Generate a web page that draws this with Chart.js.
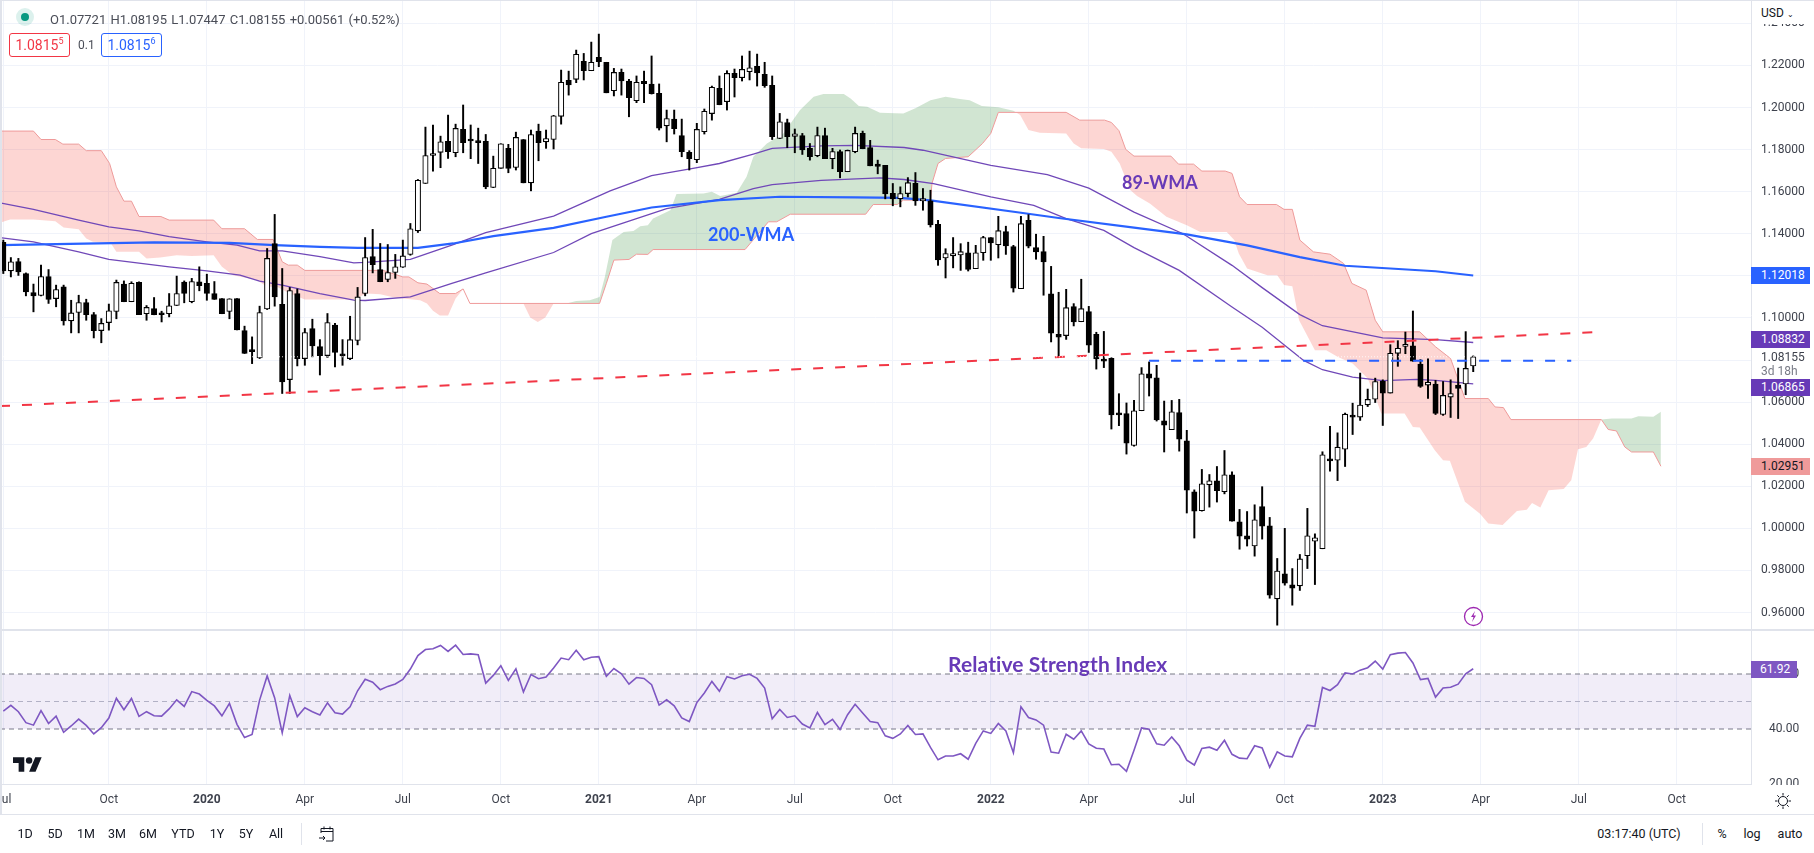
<!DOCTYPE html>
<html>
<head>
<meta charset="utf-8">
<title>EUR/USD weekly</title>
<script src="https://cdn.jsdelivr.net/npm/chart.js@4"></script>
<style>
  html, body { margin:0; padding:0; background:#fff; }
  #page { position:relative; width:1814px; height:853px; overflow:hidden; font-family:Roboto, sans-serif; color:#131722; }
  canvas { position:absolute; left:0; }
  .txt { position:absolute; white-space:nowrap; line-height:1; transform:translateY(-50%); }
  .rule { position:absolute; background:#e0e3eb; }
  .tag { position:absolute; left:1751px; width:59px; height:17px; line-height:17px; font-size:12px; padding-left:10px; box-sizing:border-box; }
  .box { position:absolute; top:33px; height:24px; width:61px; box-sizing:border-box; border:1px solid; border-radius:3px; font-size:14px; line-height:22px; text-align:center; }
  .box sup { font-size:9px; line-height:0; }
  .note { position:absolute; font-family:Lato, sans-serif; font-weight:700; font-size:18px; line-height:1; white-space:nowrap; transform:translateY(-50%); }
  .range { position:absolute; top:834px; font-size:12.5px; line-height:1; transform:translate(-50%,-50%); }
</style>
</head>
<body>
<div id="page">
  <canvas id="priceChart" style="top:0"></canvas>
  <canvas id="rsiChart" style="top:630px"></canvas>

  <div class="rule" style="left:0;top:0;width:1814px;height:1px"></div>
  <div class="rule" style="left:0;top:0;width:2px;height:814px"></div>
  <div class="rule" style="left:0;top:629px;width:1814px;height:2px"></div>
  <div class="rule" style="left:0;top:814px;width:1814px;height:1px"></div>

  <!-- header -->
  <div style="position:absolute;left:16px;top:8px;width:18px;height:18px;border-radius:50%;background:rgba(8,153,129,.14)"></div>
  <div style="position:absolute;left:21px;top:13px;width:8px;height:8px;border-radius:50%;background:#089981"></div>
  <div class="txt" style="left:50px;top:19px;font-size:13px;word-spacing:1px;color:#4a4d57">O1.07721 H1.08195 L1.07447 C1.08155 +0.00561 (+0.52%)</div>
  <div class="box" style="left:9px;border-color:#f23645;color:#f23645">1.0815<sup>5</sup></div>
  <div class="txt" style="left:78px;top:45px;font-size:12px;color:#4a4d57">0.1</div>
  <div class="box" style="left:101px;border-color:#2962ff;color:#2962ff">1.0815<sup>6</sup></div>

  <!-- price axis head, sits on top of the clipped 1.24 label -->
  <div style="position:absolute;left:1752px;top:1px;width:62px;height:23px;background:#fff"></div>
  <div class="txt" style="left:1761px;top:13px;font-size:12px">USD <span style="font-size:8px">&#8964;</span></div>

  <!-- last value tags -->
  <div class="tag" style="top:267px;background:#2962ff;color:#fff">1.12018</div>
  <div class="tag" style="top:331px;background:#673ab7;color:#fff">1.08832</div>
  <div class="txt" style="left:1761px;top:357px;font-size:12px;color:#3e424d">1.08155</div>
  <div class="txt" style="left:1761px;top:371px;font-size:12px;color:#787b86">3d 18h</div>
  <div class="tag" style="top:379px;background:#673ab7;color:#fff">1.06865</div>
  <div class="tag" style="top:458px;background:#ef9a9a;color:#131722">1.02951</div>
  <div class="tag" style="top:661px;width:46px;padding-left:9px;background:#7e57c2;color:#fff">61.92</div>

  <!-- chart notes -->
  <div class="note" style="left:708px;top:234px;color:#2962ff">200-WMA</div>
  <div class="note" style="left:1122px;top:182px;color:#673ab7">89-WMA</div>
  <div class="note" style="left:948px;top:663px;font-size:21px;letter-spacing:.1px;color:#673ab7">Relative Strength Index</div>

  <!-- event marker -->
  <svg style="position:absolute;left:1463px;top:606px" width="21" height="21" viewBox="0 0 21 21">
    <circle cx="10.5" cy="10.5" r="9" fill="#fff" stroke="#9c27b0" stroke-width="1.3"/>
    <path d="M12 5 L8 11 H10.5 L9 16 L13 9.5 H10.5 Z" fill="#9c27b0"/>
  </svg>

  <!-- logo -->
  <svg style="position:absolute;left:13px;top:757px" width="29" height="15" viewBox="0 0 36 18">
    <path d="M14 18H7V7H0V0h14v18zM28 18h-8L27.6 0h8L28 18z" fill="#131722"/>
    <circle cx="20" cy="4" r="4" fill="#131722"/>
  </svg>

  <!-- hides the lower half of the 20.00 label, as in the pane edge -->
  <div style="position:absolute;left:1752px;top:785px;width:62px;height:28px;background:#fff"></div>
  <svg style="position:absolute;left:1774px;top:792px" width="18" height="18" viewBox="0 0 18 18" fill="none" stroke="#131722" stroke-width="1">
    <circle cx="9" cy="9" r="4.5"/>
    <path d="M9 1v2.5M9 14.5V17M1 9h2.5M14.5 9H17M3.3 3.3l1.8 1.8M12.9 12.9l1.8 1.8M3.3 14.7l1.8-1.8M12.9 5.1l1.8-1.8"/>
  </svg>

  <!-- bottom toolbar -->
  <div class="range" style="left:25px">1D</div>
  <div class="range" style="left:55px">5D</div>
  <div class="range" style="left:86px">1M</div>
  <div class="range" style="left:117px">3M</div>
  <div class="range" style="left:148px">6M</div>
  <div class="range" style="left:183px">YTD</div>
  <div class="range" style="left:217px">1Y</div>
  <div class="range" style="left:246px">5Y</div>
  <div class="range" style="left:276px">All</div>
  <div class="rule" style="left:301px;top:823px;width:1px;height:22px"></div>
  <svg style="position:absolute;left:318px;top:825px" width="18" height="18" viewBox="0 0 18 18" fill="none" stroke="#131722" stroke-width="1">
    <path d="M3 8V3.5h12V16H8M3 6.5h12M6 1.5v3M12 1.5v3M1 13h6M5 11l2 2-2 2"/>
  </svg>
  <div class="range" style="left:1639px">03:17:40 (UTC)</div>
  <div class="rule" style="left:1702px;top:823px;width:1px;height:22px"></div>
  <div class="range" style="left:1722px">%</div>
  <div class="range" style="left:1752px">log</div>
  <div class="range" style="left:1790px">auto</div>
</div>

<script>
Chart.defaults.font.family = 'Roboto, sans-serif';

// price axis and time axis
const priceTicks = [1.24, 1.22, 1.20, 1.18, 1.16, 1.14, 1.12, 1.10, 1.06, 1.04, 1.02, 1.00, 0.98, 0.96];
const priceGrid = [1.24, 1.22, 1.20, 1.18, 1.16, 1.14, 1.12, 1.10, 1.08, 1.06, 1.04, 1.02, 1.00, 0.98, 0.96];
const rsiTicks = [60, 40, 20];
const timeTickWeeks = [0, 14, 27, 40, 53, 66, 79, 92, 105, 118, 131, 144, 157, 170, 183, 196, 209, 222];
const timeTickLabels = ['Jul', 'Oct', '2020', 'Apr', 'Jul', 'Oct', '2021', 'Apr', 'Jul', 'Oct', '2022', 'Apr', 'Jul', 'Oct', '2023', 'Apr', 'Jul', 'Oct'];

// weekly candles, one value per week
const opens = [
  1.1359,1.1224,1.1268,1.1211,1.1121,1.1107,1.1197,1.1092,1.1148,1.0986,
  1.1026,1.1073,1.1016,1.0940,1.0978,1.1031,1.1161,1.1077,1.1169,1.1020,
  1.1045,1.1018,1.1020,1.1059,1.1170,1.1077,1.1172,1.1164,1.1116,1.1092,
  1.1031,1.1092,1.0940,1.0845,1.0810,1.1043,1.1354,1.1065,1.0707,1.1116,
  1.0807,1.0950,1.0864,1.0821,1.0966,1.0826,1.0807,1.0893,1.1116,1.1292,
  1.1230,1.1183,1.1216,1.1241,1.1302,1.1414,1.1639,1.1772,1.1787,1.1839,
  1.1785,1.1896,1.1845,1.1836,1.1839,1.1620,1.1711,1.1806,1.1715,1.1848,
  1.1642,1.1888,1.1837,1.1848,1.1958,1.2129,1.2134,1.2219,1.2175,1.2238,
  1.2215,1.2080,1.2167,1.2126,1.2032,1.2124,1.2112,1.2067,1.1913,1.1945,
  1.1867,1.1787,1.1752,1.1885,1.1971,1.2091,1.2028,1.2162,1.2142,1.2170,
  1.2196,1.2158,1.2105,1.1853,1.1929,1.1863,1.1867,1.1806,1.1771,1.1867,
  1.1757,1.1791,1.1695,1.1790,1.1877,1.1810,1.1731,1.1725,1.1592,1.1566,
  1.1591,1.1640,1.1556,1.1556,1.1445,1.1285,1.1295,1.1299,1.1310,1.1234,
  1.1310,1.1382,1.1348,1.1410,1.1339,1.1139,1.1464,1.1334,1.1315,1.1115,
  1.0922,1.0916,1.1054,1.0982,1.1030,1.0922,1.0803,1.0808,1.0546,1.0545,
  1.0394,1.0559,1.0735,1.0716,1.0511,1.0469,1.0550,1.0416,1.0174,1.0084,
  1.0207,1.0226,1.0174,1.0255,1.0031,0.9965,0.9916,1.0103,1.0012,0.9665,
  0.9784,0.9732,0.9727,0.9870,0.9939,0.9903,1.0331,1.0324,1.0376,1.0535,
  1.0529,1.0587,1.0614,1.0700,1.0643,1.0832,1.0865,1.0867,1.0781,1.0681,
  1.0686,1.0541,1.0624,1.0681,1.0686,1.07721
];
const highs = [
  1.1370,1.1287,1.1283,1.1214,1.1161,1.1251,1.1230,1.1156,1.1156,1.1084,
  1.1108,1.1089,1.1026,1.0997,1.1066,1.1180,1.1176,1.1172,1.1172,1.1059,
  1.1097,1.1032,1.1116,1.1199,1.1176,1.1188,1.1243,1.1208,1.1173,1.1092,
  1.1091,1.1092,1.0961,1.0910,1.1056,1.1330,1.1492,1.1235,1.1145,1.1138,
  1.0950,1.0994,1.0897,1.1021,1.0974,1.0897,1.1008,1.1145,1.1382,1.1421,
  1.1354,1.1349,1.1302,1.1370,1.1449,1.1658,1.1907,1.1917,1.1864,1.1964,
  1.1921,1.2012,1.1917,1.1902,1.1872,1.1769,1.1828,1.1825,1.1883,1.1848,
  1.1893,1.1921,1.1893,1.1963,1.2178,1.2173,1.2273,1.2257,1.2311,1.2349,
  1.2215,1.2186,1.2183,1.2134,1.2150,1.2173,1.2245,1.2112,1.1988,1.1988,
  1.1945,1.1795,1.1925,1.1993,1.2102,1.2150,1.2175,1.2183,1.2245,1.2268,
  1.2254,1.2215,1.2150,1.1972,1.1945,1.1898,1.1877,1.1829,1.1907,1.1902,
  1.1806,1.1798,1.1798,1.1907,1.1888,1.1844,1.1750,1.1725,1.1639,1.1623,
  1.1667,1.1691,1.1615,1.1607,1.1464,1.1329,1.1382,1.1353,1.1360,1.1345,
  1.1388,1.1382,1.1483,1.1436,1.1345,1.1483,1.1491,1.1398,1.1388,1.1245,
  1.1122,1.1136,1.1068,1.1184,1.1055,1.0932,1.0936,1.0811,1.0640,1.0596,
  1.0608,1.0764,1.0791,1.0775,1.0605,1.0608,1.0613,1.0466,1.0183,1.0280,
  1.0256,1.0294,1.0370,1.0269,1.0090,1.0080,1.0112,1.0198,1.0052,0.9857,
  1.0000,0.9809,0.9876,1.0095,0.9974,1.0364,1.0485,1.0454,1.0548,1.0595,
  1.0738,1.0662,1.0714,1.0706,1.0873,1.0892,1.0933,1.1033,1.0802,1.0806,
  1.0703,1.0698,1.0706,1.0762,1.0935,1.08195
];
const lows = [
  1.1211,1.1195,1.1202,1.1105,1.1029,1.1105,1.1069,1.1053,1.0966,1.0929,
  1.0929,1.0989,1.0905,1.0882,1.0942,1.0996,1.1077,1.1077,1.1015,1.0989,
  1.1015,1.0981,1.1005,1.1059,1.1072,1.1072,1.1129,1.1084,1.1088,1.1020,
  1.0996,1.0943,1.0831,1.0783,1.0807,1.1040,1.1056,1.0641,1.0641,1.0772,
  1.0775,1.0815,1.0729,1.0812,1.0767,1.0775,1.0802,1.0872,1.1105,1.1214,
  1.1172,1.1172,1.1188,1.1240,1.1298,1.1406,1.1639,1.1698,1.1714,1.1758,
  1.1766,1.1785,1.1757,1.1734,1.1614,1.1619,1.1711,1.1690,1.1703,1.1642,
  1.1604,1.1747,1.1806,1.1803,1.1921,1.2059,1.2118,1.2131,1.2175,1.2194,
  1.2070,1.2055,1.2059,1.1956,1.2023,1.2023,1.2064,1.1893,1.1837,1.1874,
  1.1766,1.1703,1.1738,1.1874,1.1940,1.2013,1.1988,1.2050,1.2126,1.2131,
  1.2102,1.2096,1.1848,1.1852,1.1809,1.1785,1.1777,1.1750,1.1766,1.1757,
  1.1709,1.1666,1.1695,1.1785,1.1804,1.1723,1.1685,1.1566,1.1533,1.1528,
  1.1575,1.1535,1.1512,1.1432,1.1250,1.1190,1.1238,1.1226,1.1223,1.1234,
  1.1274,1.1274,1.1285,1.1302,1.1123,1.1139,1.1333,1.1279,1.1108,1.0886,
  1.0811,1.0898,1.0962,1.0982,1.0836,1.0757,1.0764,1.0472,1.0488,1.0353,
  1.0391,1.0559,1.0629,1.0510,1.0363,1.0469,1.0367,1.0073,0.9954,1.0082,
  1.0101,1.0125,1.0164,1.0034,0.9901,0.9916,0.9868,0.9949,0.9668,0.9540,
  0.9730,0.9635,0.9705,0.9809,0.9733,0.9903,1.0272,1.0227,1.0294,1.0446,
  1.0513,1.0579,1.0598,1.0489,1.0643,1.0770,1.0830,1.0794,1.0670,1.0617,
  1.0541,1.0537,1.0527,1.0522,1.0635,1.07447
];
const closes = [
  1.1224,1.1267,1.1219,1.1124,1.1105,1.1197,1.1088,1.1135,1.0986,1.1024,
  1.1073,1.1015,1.0939,1.0974,1.1034,1.1169,1.1077,1.1165,1.1015,1.1050,
  1.1015,1.1015,1.1058,1.1116,1.1116,1.1173,1.1153,1.1116,1.1088,1.1020,
  1.1091,1.0943,1.0831,1.0840,1.1026,1.1283,1.1100,1.0696,1.1130,1.0807,
  1.0931,1.0867,1.0821,1.0978,1.0836,1.0820,1.0897,1.1100,1.1287,1.1253,
  1.1172,1.1216,1.1243,1.1295,1.1424,1.1654,1.1772,1.1780,1.1837,1.1790,
  1.1901,1.1833,1.1841,1.1833,1.1623,1.1711,1.1828,1.1711,1.1858,1.1642,
  1.1872,1.1833,1.1853,1.1961,1.2120,1.2108,1.2253,1.2175,1.2215,1.2218,
  1.2070,1.2167,1.2127,1.2047,1.2120,1.2113,1.2066,1.1902,1.1948,1.1899,
  1.1790,1.1757,1.1896,1.1982,1.2096,1.2013,1.2162,1.2142,1.2181,1.2189,
  1.2165,1.2104,1.1861,1.1932,1.1861,1.1875,1.1799,1.1766,1.1867,1.1757,
  1.1791,1.1695,1.1796,1.1877,1.1804,1.1723,1.1720,1.1590,1.1566,1.1591,
  1.1643,1.1556,1.1567,1.1442,1.1276,1.1306,1.1306,1.1315,1.1231,1.1310,
  1.1382,1.1356,1.1415,1.1342,1.1142,1.1448,1.1341,1.1314,1.1266,1.0928,
  1.0909,1.1049,1.0981,1.1044,1.0871,1.0805,1.0795,1.0539,1.0539,1.0405,
  1.0559,1.0735,1.0714,1.0515,1.0491,1.0554,1.0424,1.0182,1.0082,1.0212,
  1.0226,1.0179,1.0255,1.0034,0.9963,0.9949,1.0041,1.0011,0.9683,0.9797,
  0.9740,0.9716,0.9855,0.9965,0.9955,1.0350,1.0320,1.0386,1.0543,1.0529,
  1.0586,1.0613,1.0698,1.0643,1.0832,1.0856,1.0868,1.0794,1.0675,1.0695,
  1.0546,1.0632,1.0641,1.0665,1.0760,1.08155
];

// RSI, one value per week
const rsiValues = [
  46.5,48.6,46.3,42.3,41.4,46.7,42.0,44.7,38.8,41.1,
  43.6,41.3,38.2,40.5,44.0,51.2,47.0,51.1,44.6,46.3,
  44.8,44.7,47.3,50.6,48.2,53.6,52.7,50.4,48.4,44.8,
  49.3,41.7,36.9,38.0,50.5,59.3,51.3,38.6,52.2,44.5,
  47.7,46.3,45.1,49.5,45.9,45.4,48.1,53.9,58.1,57.0,
  54.3,55.5,56.4,58.0,61.8,66.7,68.9,69.2,70.4,68.2,
  70.5,67.1,67.3,67.0,56.7,59.5,63.0,57.7,61.9,53.5,
  59.8,58.3,58.9,62.2,65.8,65.2,68.6,65.2,66.1,66.3,
  59.2,62.0,60.1,56.3,58.7,58.4,56.1,48.7,50.6,48.4,
  44.0,42.7,49.6,53.1,57.3,53.7,59.0,58.2,59.4,59.9,
  58.4,54.9,43.7,47.1,44.2,44.8,41.8,40.4,46.0,41.6,
  43.5,39.8,45.2,49.0,45.8,42.7,42.3,37.5,36.6,38.2,
  41.3,38.0,38.2,33.3,28.8,30.2,30.2,31.0,29.0,34.8,
  39.3,38.4,42.0,39.3,31.4,48.1,44.2,43.3,41.4,31.6,
  31.2,38.1,36.3,39.3,34.6,33.0,32.7,27.0,27.2,24.6,
  32.3,40.4,39.9,34.6,34.1,37.1,33.9,28.7,26.9,32.9,
  33.4,32.3,35.9,30.8,29.4,29.2,33.9,33.1,26.1,31.7,
  30.2,29.9,36.6,41.4,41.0,55.1,54.0,56.1,60.4,60.0,
  61.4,62.3,64.7,61.8,67.0,67.6,67.8,64.0,58.0,58.4,
  51.6,54.9,55.2,56.3,60.1,61.92
];
const rsiLevels = [60, 50, 40];

// 200-WMA, read at its bends
const wma200Weeks = [-0.44,20,30,36,42,47,55,59.7,65,73,80,86,95,103,113,119,123,135,140,150,157,165,172,178,184,190,195];
const wma200Values = [1.1346,1.1359,1.1357,1.1346,1.1338,1.1333,1.1333,1.1354,1.1389,1.1428,1.1481,1.1525,1.1560,1.1576,1.1573,1.1571,1.1559,1.1500,1.1475,1.1429,1.1397,1.1345,1.1289,1.1248,1.1235,1.1222,1.12018];

// the two purple averages
const wmaUpperWeeks = [-0.44,4,10,14,18,22,27,31,34,37,42,46.5,48,54,59.5,64,73,80.5,86,91.5,95,99.5,102,108.5,113,119.5,122,131,138.5,144,150,156.5,163,167,172,175,183,190,195];
const wmaUpperValues = [1.1547,1.1516,1.1465,1.1433,1.1414,1.1386,1.1362,1.1346,1.1319,1.1319,1.1291,1.1262,1.1264,1.1278,1.1346,1.1405,1.1484,1.1604,1.1676,1.1711,1.1734,1.1779,1.1806,1.1818,1.1820,1.1810,1.1797,1.1725,1.1681,1.1617,1.1503,1.1400,1.1250,1.1144,1.1016,1.0963,1.0905,1.0897,1.08832];
const wmaLowerWeeks = [-0.44,4,10,14,22,27,31.4,34,37,42,46.5,48,54,59.5,64,73,78,82.7,88,95,99.5,102,108.5,116.3,119.5,123.4,131,136.7,141,146,150,156,163,167,172.5,175,179,183,187.5,190,195];
const wmaLowerValues = [1.1382,1.1362,1.1314,1.1278,1.1243,1.1224,1.1203,1.1175,1.1156,1.1116,1.1085,1.1083,1.1100,1.1164,1.1214,1.1311,1.1401,1.1457,1.1520,1.1563,1.1615,1.1634,1.1654,1.1666,1.1658,1.1638,1.1575,1.1535,1.1472,1.1416,1.1334,1.1226,1.1052,1.0956,1.0798,1.0754,1.0719,1.0702,1.0708,1.0703,1.06865];

// Ichimoku cloud edges, read at their corners
const spanBWeeks = [-0.44,4,5,6.9,7.9,10,11,13,14.1,15,16,17,18,20.9,22,27.9,29,32,33.7,35.8,37,37.8,39,40,50.4,53,53.8,55,56.2,57.9,60,61,61.9,79.1,80,81,83,84,85.5,86.2,98.4,101.5,102.6,104.4,114.4,115.4,118.6,119.4,123,123.2,124,125,128,129.9,131,132,141,142.8,146.1,147,148,148.9,150,154.9,155.9,157.9,159,162.1,163,164,165,168.9,169.9,171,172,173.8,176,177.8,178.9,180.8,182,183,187.9,190,192,193.9,197,197.9,199,200,212,212.9,214,215.1,216,218.9,219.9];
const spanBValues = [1.1888,1.1888,1.1848,1.1848,1.1826,1.1826,1.1795,1.1795,1.1734,1.1623,1.1555,1.1555,1.1482,1.1482,1.1465,1.1465,1.1424,1.1424,1.1373,1.1373,1.1267,1.1251,1.1251,1.1226,1.1226,1.1195,1.1195,1.1167,1.1161,1.1116,1.1116,1.1138,1.1069,1.1069,1.1164,1.1275,1.1278,1.1303,1.1302,1.1325,1.1325,1.1457,1.1457,1.1493,1.1493,1.1539,1.1539,1.1560,1.1560,1.1639,1.1734,1.1758,1.1766,1.1829,1.1877,1.1977,1.1977,1.1940,1.1940,1.1929,1.1890,1.1801,1.1769,1.1769,1.1731,1.1731,1.1698,1.1698,1.1687,1.1576,1.1539,1.1539,1.1516,1.1516,1.1370,1.1314,1.1303,1.1259,1.1164,1.1132,1.0989,1.0934,1.0934,1.0863,1.0807,1.0617,1.0617,1.0577,1.0574,1.0517,1.0517,1.0470,1.0463,1.0387,1.0363,1.0363,1.0295];
const spanAWeeks = [-0.44,0.9,4,6.9,8,10,11,11.9,14.2,15,18,19,20.8,23,25,27.9,29,30.5,33.6,35,36.3,38,40,46.5,48.2,50,52,55.3,56.2,57,57.9,59,60,61,61.9,69,69.9,70.9,71.9,73,74.7,76,77.8,79.1,79.8,80.8,81.4,82.3,83.6,84.5,85.5,86.2,88.5,89.3,92.9,94,95.1,97.3,98.6,99.5,101.3,103.5,105.7,107.5,108.8,111.5,112.4,113.5,114.6,116.3,119.4,121,123,125,126.9,128.2,129.8,132,134,134.9,136,137.5,141,142,143,146,147,148.1,149.5,150.4,152.1,154.3,157,158.8,162.3,163.3,163.9,165,167.7,169,169.9,171,171.9,174,175.5,177,179,181,182,182.8,185.9,187,187.9,189.9,191,191.9,193.9,195.9,197,198.9,200.8,202.1,202.8,203.9,205,207,208,208.9,210,210.9,212,213.4,216,216.9,218.9,219.9];
const spanAValues = [1.1452,1.1468,1.1468,1.1460,1.1430,1.1421,1.1378,1.1362,1.1359,1.1314,1.1314,1.1283,1.1287,1.1298,1.1294,1.1298,1.1243,1.1203,1.1180,1.1148,1.1148,1.1116,1.1088,1.1088,1.1116,1.1113,1.1096,1.1084,1.1069,1.1034,1.1012,1.1012,1.1092,1.1138,1.1069,1.1069,1.1002,1.0981,1.1002,1.1069,1.1069,1.1080,1.1084,1.1100,1.1195,1.1370,1.1386,1.1409,1.1413,1.1436,1.1440,1.1473,1.1512,1.1589,1.1592,1.1600,1.1579,1.1595,1.1671,1.1766,1.1829,1.1877,1.1988,1.2051,1.2064,1.2064,1.2043,1.2007,1.2004,1.1975,1.1972,1.1996,1.2035,1.2051,1.2040,1.2035,1.2007,1.2001,1.1985,1.1964,1.1893,1.1880,1.1877,1.1829,1.1806,1.1803,1.1790,1.1734,1.1608,1.1579,1.1544,1.1481,1.1441,1.1409,1.1409,1.1370,1.1306,1.1235,1.1203,1.1203,1.1156,1.1151,1.0989,1.0847,1.0847,1.0815,1.0783,1.0712,1.0625,1.0546,1.0546,1.0482,1.0479,1.0371,1.0324,1.0321,1.0126,1.0070,1.0023,1.0016,1.0083,1.0089,1.0121,1.0099,1.0181,1.0187,1.0229,1.0376,1.0387,1.0427,1.0517,1.0522,1.0522,1.0533,1.0530,1.0554];

// drawn lines
const trendWeeks = [-0.44, 210.9];
const trendValues = [1.0581, 1.0932];
const levelWeeks = [152, 208];
const levelValues = [1.0797, 1.0797];
const lastPriceWeeks = [-0.44, 231.85];
const lastPriceValues = [1.08155, 1.08155];

const weekMin = -0.44;
const weekMax = 231.85;

function pts(xs, ys) {
  return xs.map((x, i) => ({ x: x, y: ys[i] }));
}

function lineSet(xs, ys, color, width, order, extra) {
  return Object.assign({
    type: 'line', data: pts(xs, ys), borderColor: color, borderWidth: width,
    pointRadius: 0, tension: 0, fill: false, order: order,
  }, extra || {});
}

// tick labels may run off the canvas, the plot area keeps its full size
function noLabelPadding(axis) {
  axis.paddingLeft = axis.paddingRight = axis.paddingTop = axis.paddingBottom = 0;
}

function fixWidth(axis) {
  axis.width = 63;
  noLabelPadding(axis);
}

function weekLabel(value) {
  return timeTickLabels[timeTickWeeks.indexOf(value)];
}

function weekAxis(showLabels) {
  return {
    type: 'linear', min: weekMin, max: weekMax, offset: false,
    afterBuildTicks: axis => { axis.ticks = timeTickWeeks.map(v => ({ value: v })); },
    afterFit: axis => {
      axis.height = showLabels ? 31 : 0;
      noLabelPadding(axis);
    },
    grid: { color: '#f0f3fa', offset: false, drawTicks: false },
    border: { display: showLabels, color: '#e0e3eb' },
    ticks: {
      display: showLabels, autoSkip: false, maxRotation: 0, padding: 9, color: '#3e424d',
      font: ctx => {
        const isYear = ctx.tick && /^20/.test(weekLabel(ctx.tick.value));
        return { size: 12, weight: isYear ? 'bold' : 'normal' };
      },
      callback: value => weekLabel(value),
    },
  };
}

function makeCanvas(id, h) {
  const el = document.getElementById(id);
  el.width = 1814;
  el.height = h;
  el.style.width = '1814px';
  el.style.height = h + 'px';
  return el;
}

const weeks = opens.map((_, i) => i);

new Chart(makeCanvas('priceChart', 630), {
  type: 'line',
  data: {
    datasets: [
      lineSet(spanAWeeks, spanAValues, 'rgba(0,0,0,0)', 0, 20, {
        fill: { target: 1, above: 'rgba(56,142,60,0.23)', below: 'rgba(244,67,54,0.22)' },
      }),
      lineSet(spanBWeeks, spanBValues, '#ef9a9a', 1, 19),
      lineSet(wma200Weeks, wma200Values, '#2962ff', 2.2, 6),
      lineSet(wmaUpperWeeks, wmaUpperValues, '#7048b8', 1.3, 7),
      lineSet(wmaLowerWeeks, wmaLowerValues, '#7048b8', 1.3, 7),
      {
        type: 'bar', order: 4, grouped: false, barThickness: 1.3, backgroundColor: '#000', borderWidth: 0,
        data: weeks.map(i => ({ x: i, y: [lows[i], highs[i]] })),
      },
      {
        type: 'bar', order: 3, grouped: false, barThickness: 5.4, borderSkipped: false, borderWidth: 1.1,
        borderColor: '#000', minBarLength: 2,
        backgroundColor: weeks.map(i => closes[i] >= opens[i] ? '#fff' : '#000'),
        data: weeks.map(i => ({ x: i, y: [opens[i], closes[i]] })),
      },
      lineSet(trendWeeks, trendValues, '#f23645', 2, 2, { borderDash: [10, 12] }),
      lineSet(levelWeeks, levelValues, '#2962ff', 2, 2, { borderDash: [10, 12] }),
      lineSet(lastPriceWeeks, lastPriceValues, 'rgba(255,255,255,0.85)', 1, 1, { borderDash: [1, 2] }),
    ],
  },
  options: {
    responsive: false, animation: false, devicePixelRatio: 1,
    layout: { padding: 0, autoPadding: false },
    plugins: { legend: { display: false }, tooltip: { enabled: false } },
    scales: {
      x: weekAxis(false),
      y: {
        type: 'linear', position: 'right', min: 0.9517, max: 1.2511,
        afterFit: fixWidth,
        afterBuildTicks: axis => { axis.ticks = priceGrid.map(v => ({ value: v })); },
        grid: { color: '#f0f3fa', drawTicks: false },
        border: { color: '#e0e3eb' },
        ticks: {
          padding: 10, color: '#3e424d', font: { size: 12 }, autoSkip: false,
          callback: v => priceTicks.includes(v) ? v.toFixed(5) : '',
        },
      },
    },
  },
});

new Chart(makeCanvas('rsiChart', 185), {
  type: 'line',
  data: {
    datasets: [
      lineSet([weekMin, weekMax], [rsiLevels[0], rsiLevels[0]], '#787b86', 1, 5, {
        borderDash: [5, 4], fill: { target: 2, above: 'rgba(126,87,194,0.11)', below: 'rgba(126,87,194,0.11)' },
      }),
      lineSet([weekMin, weekMax], [rsiLevels[1], rsiLevels[1]], '#b9bcc6', 1, 5, { borderDash: [5, 4] }),
      lineSet([weekMin, weekMax], [rsiLevels[2], rsiLevels[2]], '#787b86', 1, 5, { borderDash: [5, 4] }),
      lineSet(weeks, rsiValues, '#7e57c2', 1.6, 1),
    ],
  },
  options: {
    responsive: false, animation: false, devicePixelRatio: 1,
    layout: { padding: 0, autoPadding: false },
    plugins: { legend: { display: false }, tooltip: { enabled: false } },
    scales: {
      x: weekAxis(true),
      y: {
        type: 'linear', position: 'right', min: 20, max: 76,
        afterFit: fixWidth,
        afterBuildTicks: axis => { axis.ticks = rsiTicks.map(v => ({ value: v })); },
        grid: { display: false },
        border: { color: '#e0e3eb' },
        ticks: { padding: 10, color: '#3e424d', font: { size: 12 }, callback: v => v.toFixed(2) },
      },
    },
  },
});
</script>
</body>
</html>
